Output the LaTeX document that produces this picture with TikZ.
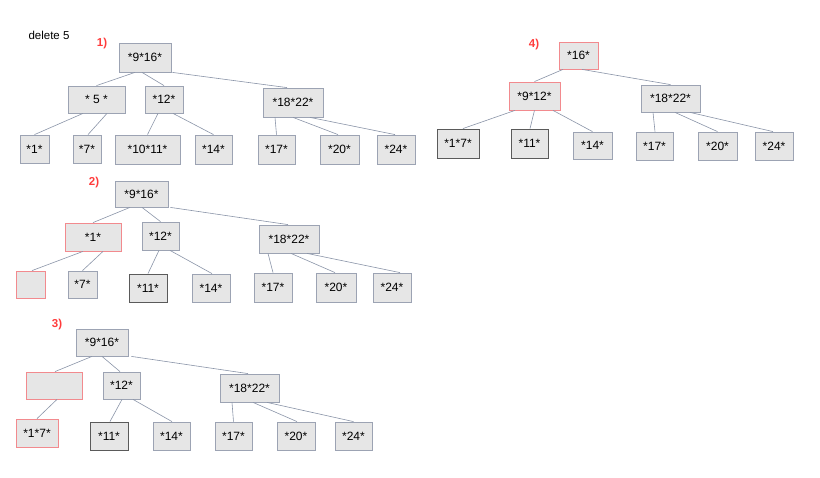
\documentclass[tikz,border=0pt]{standalone}
\usepackage{fontspec}
\setmainfont{Liberation Sans}
\definecolor{boxfill}{HTML}{E6E6E6}
\definecolor{boxline}{HTML}{9CA3B3}
\definecolor{redline}{HTML}{F28A8E}
\definecolor{darkline}{HTML}{5A5A5A}
\definecolor{edgecol}{HTML}{8A94A8}
\definecolor{labred}{HTML}{FF3B3B}
\begin{document}
\begin{tikzpicture}[x=1pt,y=-1pt,
  box/.style={draw=boxline, fill=boxfill, line width=0.8pt, inner sep=0pt, font=\fontsize{12}{14}\selectfont, minimum height=28pt},
  redbox/.style={box, draw=redline},
  darkbox/.style={box, draw=darkline, line width=0.9pt},
  edge/.style={draw=edgecol, line width=0.6pt},
  steplabel/.style={text=labred, font=\fontsize{11.5}{13}\selectfont\bfseries, inner sep=0pt},
  plain/.style={font=\fontsize{11.5}{13}\selectfont, inner sep=0pt}]
\useasboundingbox (0,0) rectangle (820,478);
\fill[white] (0,0) rectangle (820,478);

\node[plain] (title) at (49,35) {delete 5};
\node[steplabel] (s1) at (102,44) {1)};
\node[steplabel] (s2) at (94,183) {2)};
\node[steplabel] (s3) at (57,325) {3)};
\node[steplabel] (s4) at (534,45) {4)};

% ---------- 1)
\node[box, minimum width=52pt, minimum height=29pt] (r1) at (145,57.5) {*9*16*};
\node[box, minimum width=57pt, minimum height=27pt] (a1) at (96.5,99.5) {* 5 *};
\node[box, minimum width=38pt, minimum height=27pt] (b1) at (164,99.5) {*12*};
\node[box, minimum width=60pt, minimum height=29pt] (c1) at (293,102.5) {*18*22*};
\node[box, minimum width=29pt] (l1) at (34.5,149) {*1*};
\node[box, minimum width=28pt] (l2) at (87,149) {*7*};
\node[box, minimum width=65pt, minimum height=29pt] (l3) at (147.5,149.5) {*10*11*};
\node[box, minimum width=37pt, minimum height=29pt] (l4) at (213.5,149.5) {*14*};
\node[box, minimum width=37pt, minimum height=29pt] (l5) at (276.5,149.5) {*17*};
\node[box, minimum width=39pt, minimum height=29pt] (l6) at (339.5,149.5) {*20*};
\node[box, minimum width=38pt, minimum height=29pt] (l7) at (396,149.5) {*24*};
\draw[edge] ([xshift=-10pt]r1.south) -- (a1.north);
\draw[edge] ([xshift=-3pt]r1.south) -- (b1.north);
\draw[edge] ([xshift=1pt]r1.south east) -- ([xshift=-6pt]c1.north);
\draw[edge] ([xshift=-13.5pt]a1.south) -- (l1.north);
\draw[edge] ([xshift=10.5pt]a1.south) -- ([xshift=1pt]l2.north);
\draw[edge] ([xshift=-6pt]b1.south) -- (l3.north);
\draw[edge] ([xshift=9pt]b1.south) -- (l4.north);
\draw[edge] ([xshift=-18pt]c1.south) -- (l5.north);
\draw[edge] (c1.south) -- ([xshift=-1.5pt]l6.north);
\draw[edge] ([xshift=17pt]c1.south) -- ([xshift=-1pt]l7.north);

% ---------- 2)
\node[box, minimum width=53pt, minimum height=26pt] (r2) at (141.5,194) {*9*16*};
\node[redbox, minimum width=56pt] (a2) at (93,237) {*1*};
\node[box, minimum width=37pt] (b2) at (160.5,236) {*12*};
\node[box, minimum width=60pt] (c2) at (289,239) {*18*22*};
\node[redbox, minimum width=29pt, minimum height=27pt] (m1) at (30.5,284.5) {};
\node[box, minimum width=29pt, minimum height=27pt] (m2) at (82.5,284.5) {*7*};
\node[darkbox, minimum width=38pt] (m3) at (148,288) {*11*};
\node[box, minimum width=38pt] (m4) at (211,288) {*14*};
\node[box, minimum width=38pt, minimum height=29pt] (m5) at (273,287.5) {*17*};
\node[box, minimum width=40pt, minimum height=29pt] (m6) at (336,287.5) {*20*};
\node[box, minimum width=38pt, minimum height=29pt] (m7) at (392,287.5) {*24*};
\draw[edge] ([xshift=-11.5pt]r2.south) -- (a2.north);
\draw[edge] ([xshift=0.5pt]r2.south) -- (b2.north);
\draw[edge] ([xshift=2pt]r2.south east) -- ([xshift=-1pt]c2.north);
\draw[edge] ([xshift=-10pt]a2.south) -- ([xshift=1.5pt]m1.north);
\draw[edge] ([xshift=10pt]a2.south) -- (m2.north);
\draw[edge] ([xshift=-1.5pt]b2.south) -- (m3.north);
\draw[edge] ([xshift=9.5pt]b2.south) -- ([xshift=1pt]m4.north);
\draw[edge] ([xshift=-21pt]c2.south) -- (m5.north);
\draw[edge] ([xshift=2pt]c2.south) -- ([xshift=-1pt]m6.north);
\draw[edge] ([xshift=18pt]c2.south) -- ([xshift=8pt]m7.north);

% ---------- 3)
\node[box, minimum width=52pt, minimum height=27pt] (r3) at (102,342.5) {*9*16*};
\node[redbox, minimum width=56pt, minimum height=27pt] (a3) at (54,385.5) {};
\node[box, minimum width=37pt, minimum height=27pt] (b3) at (121.5,385.5) {*12*};
\node[box, minimum width=59pt] (c3) at (249.5,388) {*18*22*};
\node[redbox, minimum width=42pt] (n1) at (37,433) {*1*7*};
\node[darkbox, minimum width=38pt] (n3) at (109,436) {*11*};
\node[box, minimum width=37pt] (n4) at (171.5,436) {*14*};
\node[box, minimum width=37pt] (n5) at (233.5,436) {*17*};
\node[box, minimum width=38pt] (n6) at (296,436) {*20*};
\node[box, minimum width=37pt] (n7) at (353.5,436) {*24*};
\draw[edge] ([xshift=-10pt]r3.south) -- ([xshift=1pt]a3.north);
\draw[edge] (r3.south) -- ([xshift=-1.5pt]b3.north);
\draw[edge] ([xshift=3pt]r3.south east) -- ([xshift=-1.5pt]c3.north);
\draw[edge] ([xshift=3pt]a3.south) -- (n1.north);
\draw[edge] ([xshift=0.5pt]b3.south) -- ([xshift=1pt]n3.north);
\draw[edge] ([xshift=11.5pt]b3.south) -- ([xshift=0.5pt]n4.north);
\draw[edge] ([xshift=-17.5pt]c3.south) -- (n5.north);
\draw[edge] ([xshift=3.5pt]c3.south) -- ([xshift=1pt]n6.north);
\draw[edge] ([xshift=17.5pt]c3.south) -- (n7.north);

% ---------- 4)
\node[redbox, minimum width=39pt, minimum height=27pt] (r4) at (578.5,55.5) {*16*};
\node[redbox, minimum width=51pt] (a4) at (534.5,96) {*9*12*};
\node[box, minimum width=59pt, minimum height=27pt] (c4) at (670.5,98.5) {*18*22*};
\node[darkbox, minimum width=42pt, minimum height=29pt] (p1) at (458,143.5) {*1*7*};
\node[darkbox, minimum width=37pt, minimum height=29pt] (p2) at (529.5,143.5) {*11*};
\node[box, minimum width=39pt, minimum height=27pt] (p3) at (592.5,145.5) {*14*};
\node[box, minimum width=37pt] (p4) at (654.5,146) {*17*};
\node[box, minimum width=39pt] (p5) at (717.5,146) {*20*};
\node[box, minimum width=38pt] (p6) at (774,146) {*24*};
\draw[edge] ([xshift=-15.5pt]r4.south) -- (a4.north);
\draw[edge] ([xshift=3.5pt]r4.south) -- (c4.north);
\draw[edge] ([xshift=-19.5pt]a4.south) -- ([xshift=5pt]p1.north);
\draw[edge] (a4.south) -- ([xshift=0.5pt]p2.north);
\draw[edge] ([xshift=18.5pt]a4.south) -- (p3.north);
\draw[edge] ([xshift=-17.5pt]c4.south) -- ([xshift=0.5pt]p4.north);
\draw[edge] ([xshift=4.5pt]c4.south) -- (p5.north);
\draw[edge] ([xshift=19.5pt]c4.south) -- ([xshift=-1pt]p6.north);
\end{tikzpicture}
\end{document}
